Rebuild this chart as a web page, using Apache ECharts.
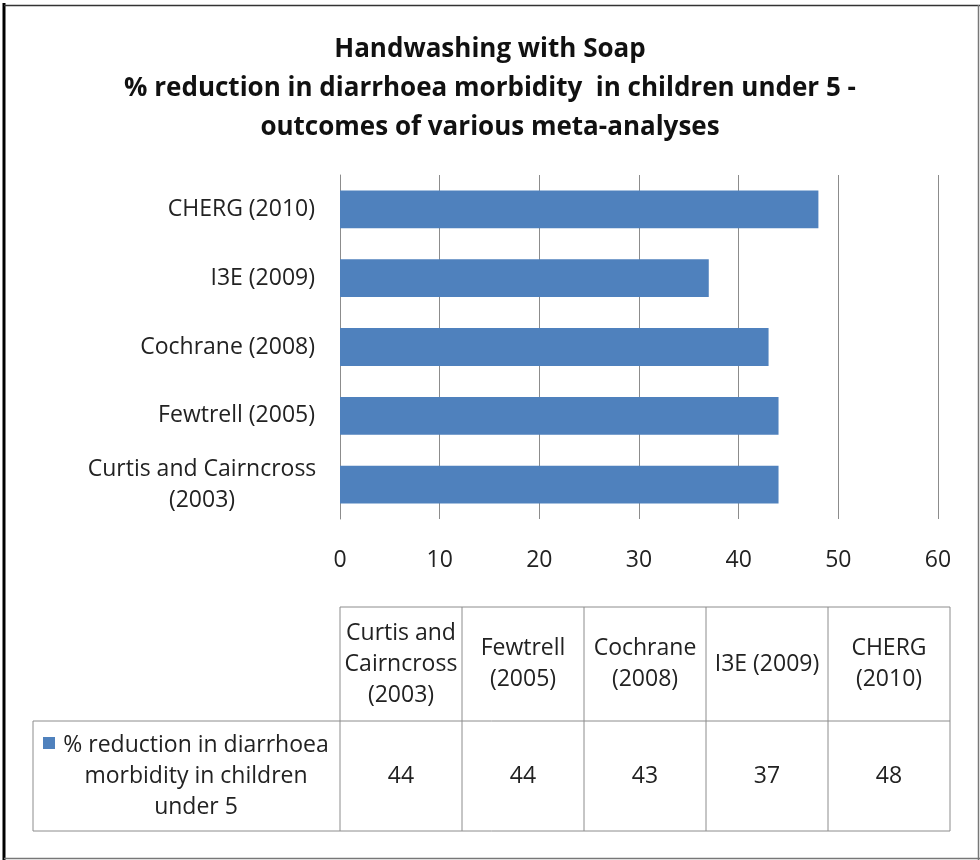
<!DOCTYPE html>
<html>
<head>
<meta charset="utf-8">
<script src="https://cdn.jsdelivr.net/npm/echarts@6/dist/echarts.min.js"></script>
<style>
  html, body { margin: 0; padding: 0; background: #fff; }
  #chart { width: 980px; height: 860px; }
</style>
</head>
<body>
<div id="chart"></div>
<script>
// data
const studies = ["Curtis and Cairncross (2003)", "Fewtrell (2005)", "Cochrane (2008)", "I3E (2009)", "CHERG (2010)"]
const reduction = [44, 44, 43, 37, 48]
const headerLabels = ["Curtis and\nCairncross\n(2003)", "Fewtrell\n(2005)", "Cochrane\n(2008)", "I3E (2009)", "CHERG\n(2010)"]
const seriesName = "% reduction in diarrhoea morbidity in children under 5"
const seriesLines = ["% reduction in diarrhoea", "morbidity in children", "under 5"]
const titleLines = ["Handwashing with Soap", "% reduction in diarrhoea morbidity  in children under 5 -", "outcomes of various meta-analyses"]
const xTicks = [0, 10, 20, 30, 40, 50, 60]

const FONT = "Open Sans"
const FS = 23
const barColor = "#4F81BD"
const lineGray = "#8c8c8c"

const chartBox = echarts.init(document.getElementById("chart"))

// data table under the chart
const tbl = { left: 340, colW: 122, top: 607, headH: 114, rowH: 110, legLeft: 33 }
const tableGraphics = () => {
  const els = []
  const right = tbl.left + tbl.colW * studies.length
  const rowTop = tbl.top + tbl.headH
  const bottom = rowTop + tbl.rowH
  const line = (x1, y1, x2, y2) => ({
    type: "line",
    shape: { x1, y1, x2, y2 },
    style: { stroke: lineGray, lineWidth: 1 }
  })
  els.push(line(tbl.left, tbl.top, right, tbl.top))
  els.push(line(tbl.legLeft, rowTop, right, rowTop))
  els.push(line(tbl.legLeft, bottom, right, bottom))
  els.push(line(tbl.legLeft, rowTop, tbl.legLeft, bottom))
  for (let i = 0; i <= studies.length; i++) {
    const x = tbl.left + tbl.colW * i
    els.push(line(x, tbl.top, x, bottom))
  }
  headerLabels.forEach((h, i) => {
    els.push({
      type: "text",
      x: tbl.left + tbl.colW * (i + 0.5),
      y: tbl.top + tbl.headH / 2,
      style: { text: h, font: FS + "px " + FONT, fill: "#222", align: "center", verticalAlign: "middle", lineHeight: 31 }
    })
  })
  reduction.forEach((v, i) => {
    els.push({
      type: "text",
      x: tbl.left + tbl.colW * (i + 0.5),
      y: rowTop + tbl.rowH / 2,
      style: { text: String(v), font: FS + "px " + FONT, fill: "#222", align: "center", verticalAlign: "middle" }
    })
  })
  // legend key
  els.push({ type: "rect", shape: { x: 43, y: 737, width: 12, height: 12 }, style: { fill: barColor } })
  els.push({
    type: "text",
    x: 196,
    y: rowTop + tbl.rowH / 2,
    style: { text: seriesLines.join("\n"), font: FS + "px " + FONT, fill: "#222", align: "center", verticalAlign: "middle", lineHeight: 31 }
  })
  // outer frame
  els.push({ type: "line", shape: { x1: 4, y1: 3, x2: 4, y2: 860 }, style: { stroke: "#000", lineWidth: 3 } })
  els.push({ type: "line", shape: { x1: 4, y1: 5.5, x2: 980, y2: 5.5 }, style: { stroke: "#333", lineWidth: 1.5 } })
  els.push({ type: "line", shape: { x1: 978.5, y1: 5, x2: 978.5, y2: 860 }, style: { stroke: "#777", lineWidth: 1.5 } })
  els.push({ type: "line", shape: { x1: 4, y1: 858.5, x2: 980, y2: 858.5 }, style: { stroke: "#777", lineWidth: 1.5 } })
  return els
}

const options = {
  backgroundColor: "#fff",
  title: {
    text: titleLines.join("\n"),
    left: "center",
    top: 25,
    textStyle: { fontFamily: FONT, fontSize: 26, fontWeight: "bold", color: "#111", lineHeight: 39 }
  },
  grid: { left: 340, right: 42, top: 175, height: 344 },
  xAxis: {
    type: "value",
    min: xTicks[0],
    max: xTicks[xTicks.length - 1],
    interval: 10,
    axisLine: { show: false },
    axisTick: { show: false },
    axisLabel: { fontFamily: FONT, fontSize: FS, color: "#222", margin: 30 },
    splitLine: { show: true, lineStyle: { color: lineGray, width: 1 } }
  },
  yAxis: {
    type: "category",
    data: studies,
    axisLine: { show: true, lineStyle: { color: lineGray } },
    axisTick: { show: false },
    axisLabel: {
      fontFamily: FONT,
      fontSize: FS,
      color: "#222",
      margin: 25,
      align: "right",
      lineHeight: 31,
      formatter: (v) => {
        if (v.length > 20) {
          const k = v.lastIndexOf(" ")
          return "{w|" + v.slice(0, k) + "}\n{w|" + v.slice(k + 1) + "}"
        }
        return v
      },
      rich: { w: { fontFamily: FONT, fontSize: FS, color: "#222", width: 226, align: "center", lineHeight: 31 } }
    }
  },
  series: [
    {
      name: seriesName,
      type: "bar",
      data: reduction,
      barCategoryGap: "45%",
      itemStyle: { color: barColor },
      silent: true
    }
  ],
  graphic: tableGraphics()
}

chartBox.setOption(options)
</script>
</body>
</html>
